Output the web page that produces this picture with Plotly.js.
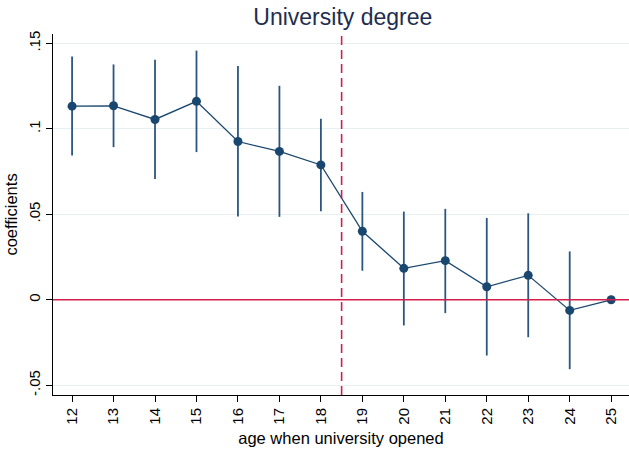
<!DOCTYPE html>
<html>
<head>
<meta charset="utf-8">
<script src="https://cdn.plot.ly/plotly-3.0.1.min.js"></script>
<style>html,body{margin:0;padding:0;background:#fff;}#chart{width:629px;height:456px;}</style>
</head>
<body>
<div id="chart"></div>
<script>
var ages = [12, 13, 14, 15, 16, 17, 18, 19, 20, 21, 22, 23, 24, 25];
var coef = [0.1133, 0.1135, 0.1055, 0.1161, 0.0926, 0.0868, 0.0789, 0.0401, 0.0184, 0.0229, 0.0076, 0.0143, -0.0062, 0];
var ciHigh = [0.1423, 0.1377, 0.1405, 0.1458, 0.1368, 0.1252, 0.1059, 0.0631, 0.0516, 0.0532, 0.0479, 0.0506, 0.0283, 0];
var ciLow = [0.0844, 0.0893, 0.0707, 0.0864, 0.0488, 0.0485, 0.0518, 0.0170, -0.0150, -0.0078, -0.0326, -0.0219, -0.0406, 0];
var yTickVals = [-0.05, 0, 0.05, 0.1, 0.15];
var yTickText = ["-.05", "0", ".05", ".1", ".15"];
var cutoff = 18.5;

var errPlus = ciHigh.map(function (h, i) { return h - coef[i]; });
var errMinus = ciLow.map(function (l, i) { return coef[i] - l; });

var navy = "#1a476f";
var red = "#d41f4d";
var trace = {
  x: ages, y: coef, type: "scatter", mode: "lines+markers",
  line: {color: navy, width: 1.3},
  marker: {color: navy, size: 9},
  error_y: {type: "data", symmetric: false, array: errPlus, arrayminus: errMinus,
            color: "#2b5680", thickness: 1.8, width: 0},
  hoverinfo: "skip"
};

var layout = {
  width: 629, height: 456,
  margin: {l: 53, r: 0, t: 34, b: 61},
  paper_bgcolor: "#ffffff", plot_bgcolor: "#ffffff",
  showlegend: false,
  font: {family: "Liberation Sans, Arial, sans-serif", color: "#000"},
  title: {text: "University degree", x: 0.545, xanchor: "center", y: 0.962, yanchor: "middle",
          font: {size: 23, color: "#1e2d50"}},
  xaxis: {
    range: [11.54, 25.43], tickmode: "array", tickvals: ages, ticktext: ages.map(String),
    tickangle: -90, ticks: "outside", ticklen: 6, tickcolor: "#000", tickwidth: 1,
    showline: true, linecolor: "#000", linewidth: 1, mirror: false,
    showgrid: false, zeroline: false,
    tickfont: {size: 15, color: "#000"},
    title: {text: "age when university opened", font: {size: 16.5, color: "#000"}, standoff: 8}
  },
  yaxis: {
    range: [-0.0557, 0.1555], tickmode: "array", tickvals: yTickVals, ticktext: yTickText,
    tickangle: -90, ticks: "outside", ticklen: 6, tickcolor: "#000", tickwidth: 1,
    showline: true, linecolor: "#000", linewidth: 1,
    showgrid: true, gridcolor: "#e8eff1", gridwidth: 1, zeroline: false,
    tickfont: {size: 15, color: "#000"},
    title: {text: "coefficients", font: {size: 16.5, color: "#000"}, standoff: 4}
  },
  shapes: [
    {type: "line", xref: "paper", x0: 0, x1: 1, yref: "y", y0: 0, y1: 0,
     line: {color: red, width: 1.4}},
    {type: "line", xref: "x", x0: cutoff, x1: cutoff, yref: "paper", y0: 0, y1: 1,
     line: {color: red, width: 1.6, dash: "9px,5px"}}
  ]
};

Plotly.newPlot("chart", [trace], layout, {displayModeBar: false, staticPlot: true});
</script>
</body>
</html>
